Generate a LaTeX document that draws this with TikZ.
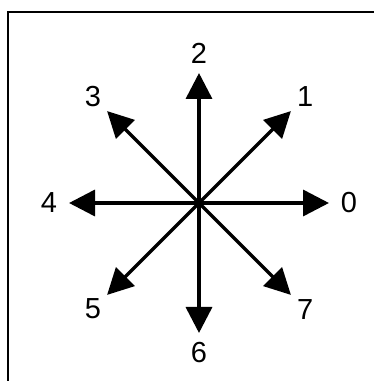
\documentclass[tikz,border=0pt]{standalone}
\usepackage{fontspec}
\setmainfont{Liberation Sans}
\usetikzlibrary{arrows.meta}

\begin{document}
\begin{tikzpicture}[
    x=1pt, y=1pt,
    font=\fontsize{29}{34}\selectfont,
    frm/.style={line width=2pt},
    dir/.style={-{Triangle[length=26pt,width=26pt]}, line width=3.5pt},
    lbl/.style={inner sep=0pt}
  ]
    \useasboundingbox (0,0) rectangle (374,381);
    % frame, cut off at right and bottom
    \draw[frm] (8,-5) -- (8,369) -- (380,369);
    \coordinate (o) at (199,178);
    \foreach \i in {0,...,7}{
      \coordinate (d\i) at ([shift={(45*\i:130)}]o);
      \node[lbl] (l\i) at ([shift={(45*\i:150)}]o) {\i};
      \draw[dir] (o) -- (d\i);
    }
  \end{tikzpicture}
\end{document}
